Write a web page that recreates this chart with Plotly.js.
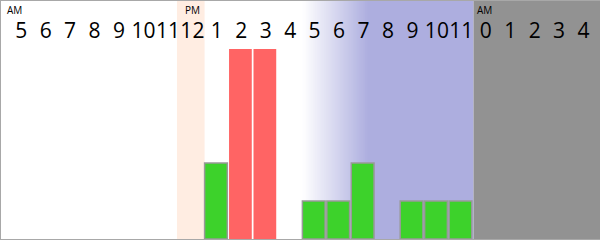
<!DOCTYPE html>
<html>
<head>
<meta charset="utf-8">
<script src="https://cdn.plot.ly/plotly-3.0.1.min.js"></script>
<style>
  html, body { margin: 0; padding: 0; background: #fff; }
  #wrap { width: 600px; height: 240px; box-sizing: border-box;
          border-left: 1px solid #a8a8a8; border-top: 1px solid #a8a8a8; border-bottom: 1px solid #a8a8a8; }
  #chart { width: 599px; height: 238px; }
</style>
</head>
<body>
<div id="wrap"><div id="chart"></div></div>
<script>
// Hour columns, 5 AM to 4 AM next day
const hourLabels = ['5','6','7','8','9','10','11','12','1','2','3','4','5','6','7','8','9','10','11','0','1','2','3','4'];
// Green series (counts per hour)
const greenValues = [null,null,null,null,null,null,null,null,2,null,null,null,1,1,2,null,1,1,1,null,null,null,null,null];
// Red series (counts per hour)
const redValues   = [null,null,null,null,null,null,null,null,null,5,5,null,null,null,null,null,null,null,null,null,null,null,null,null];
// Period markers
const periodLabels = ['AM','PM','AM'];
const periodIndex  = [0, 7, 19];

const idx = hourLabels.map((_, i) => i);

const traces = [
  { type: 'bar', x: idx, y: greenValues, width: 0.93, offset: -0.5,
    marker: { color: '#3dd22b', line: { color: '#999999', width: 1.5 } }, hoverinfo: 'skip' },
  { type: 'bar', x: idx, y: redValues, width: 0.93, offset: -0.5,
    marker: { color: '#ff6464', line: { width: 0 } }, hoverinfo: 'skip' }
];

// background bands
const shapes = [];
shapes.push({ type: 'rect', xref: 'x', yref: 'paper', x0: 6.37, x1: 7.5, y0: 0, y1: 1,
  fillcolor: '#ffede2', line: { width: 0 }, layer: 'below' });
// gradient white -> lavender
const g0 = 11.5, g1 = 14.2, nSteps = 60;
const c0 = [255,255,255], c1 = [173,174,223];
for (let s = 0; s < nSteps; s++) {
  const t = (s + 0.5) / nSteps;
  const c = c0.map((v, k) => Math.round(v + (c1[k] - v) * t));
  shapes.push({ type: 'rect', xref: 'x', yref: 'paper',
    x0: g0 + (g1 - g0) * s / nSteps, x1: g0 + (g1 - g0) * (s + 1) / nSteps + 0.06,
    y0: 0, y1: 1, fillcolor: 'rgb(' + c.join(',') + ')', line: { width: 0 }, layer: 'below' });
}
shapes.push({ type: 'rect', xref: 'x', yref: 'paper', x0: 14.2, x1: 18.5, y0: 0, y1: 1,
  fillcolor: '#adaedf', line: { width: 0 }, layer: 'below' });
shapes.push({ type: 'rect', xref: 'x', yref: 'paper', x0: 18.5, x1: 24, y0: 0, y1: 1,
  fillcolor: '#929292', line: { width: 0 }, layer: 'below' });

const periodShift = [-4, 2.5, 1.5];
const annotations = periodLabels.map((t, i) => ({
  text: t, xref: 'x', yref: 'paper', x: periodIndex[i] - 0.5, y: 1, xanchor: 'left', yanchor: 'top',
  xshift: periodShift[i], yshift: 0, showarrow: false,
  font: { family: 'Open Sans, sans-serif', size: 10, color: '#000' }
}));

const layout = {
  width: 599, height: 238,
  margin: { l: 0, r: 0, t: 0, b: 0, pad: 0 },
  paper_bgcolor: '#ffffff', plot_bgcolor: '#ffffff',
  showlegend: false, barmode: 'overlay',
  xaxis: { range: [-0.827, 23.672], tickmode: 'array', tickvals: idx, ticktext: hourLabels,
    side: 'top', ticklabelposition: 'inside', ticks: '', showgrid: false, zeroline: false,
    showline: false, ticklabelstandoff: 19, tickangle: 0, automargin: false,
    tickfont: { family: 'Open Sans, sans-serif', size: 21, color: '#000' } },
  yaxis: { range: [0, 6.263], visible: false, showgrid: false, zeroline: false },
  shapes: shapes,
  annotations: annotations
};

Plotly.newPlot('chart', traces, layout, { staticPlot: true, displayModeBar: false });
</script>
</body>
</html>
